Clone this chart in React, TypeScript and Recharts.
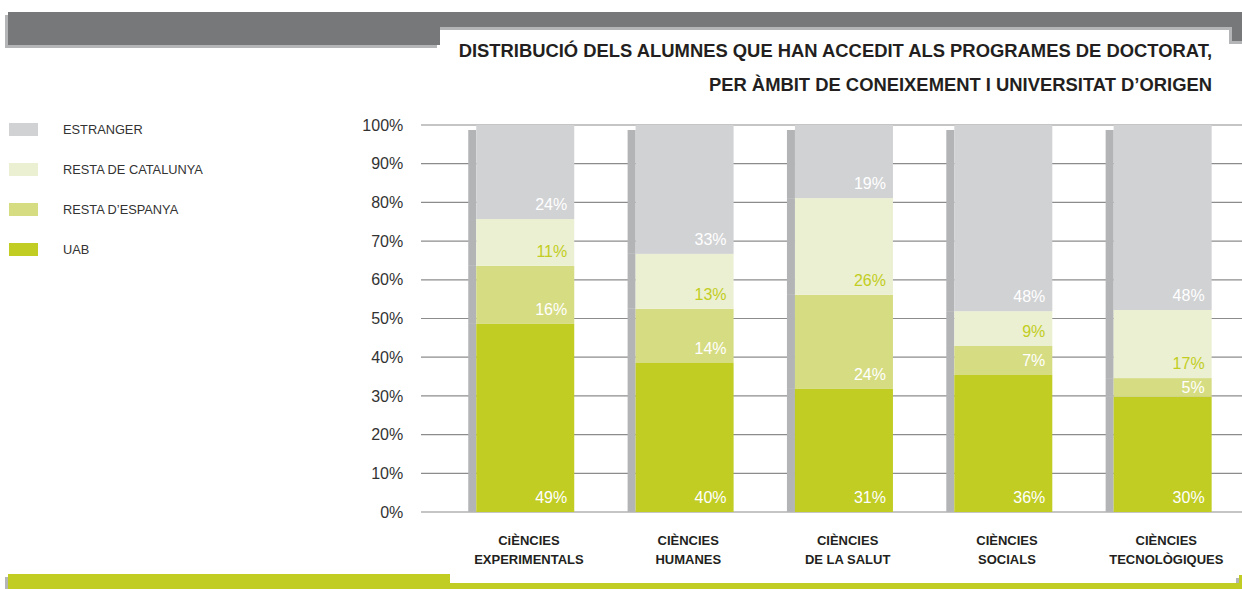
import { BarChart, Bar, XAxis, YAxis, CartesianGrid, Legend, LabelList } from 'recharts';

const FONT = '"Liberation Sans", Arial, Helvetica, sans-serif';

const categories = [
  'CiÈNCIES EXPERIMENTALS',
  'CIÈNCIES HUMANES',
  'CIÈNCIES DE LA SALUT',
  'CIÈNCIES SOCIALS',
  'CIÈNCIES TECNOLÒGIQUES',
];

// segment heights as drawn (percent)
const uab = [48.6, 38.5, 31.8, 35.4, 29.8];
const restaEspanya = [15.0, 14.0, 24.3, 7.5, 4.8];
const restaCatalunya = [12.1, 14.2, 25.0, 9.0, 17.6];
const estranger = [24.3, 33.3, 18.9, 48.1, 47.8];

// printed labels
const uabLabels = [49, 40, 31, 36, 30];
const espanyaLabels = [16, 14, 24, 7, 5];
const catalunyaLabels = [11, 13, 26, 9, 17];
const estrangerLabels = [24, 33, 19, 48, 48];

const yTicks = [0, 10, 20, 30, 40, 50, 60, 70, 80, 90, 100];

const data = categories.map((name, i) => ({
  name,
  uab: uab[i],
  espanya: restaEspanya[i],
  catalunya: restaCatalunya[i],
  estranger: estranger[i],
  uabLabel: `${uabLabels[i]}%`,
  espanyaLabel: `${espanyaLabels[i]}%`,
  catalunyaLabel: `${catalunyaLabels[i]}%`,
  estrangerLabel: `${estrangerLabels[i]}%`,
}));

const SHADOW = '#b3b4b6';

const segment = (top: boolean) => (props: any) => {
  const { x, y, width, height, fill } = props;
  const sy = top ? y + 5 : y;
  return (
    <g>
      <rect x={x - 8} y={sy} width={8} height={Math.max(0, y + height - sy)} fill={SHADOW} />
      <rect x={x} y={y} width={width} height={height} fill={fill} />
    </g>
  );
};

const valueLabel = (color: string) => (props: any) => {
  const { x, y, width, height, value } = props;
  const lift = Math.min(9, (height - 11.5) / 2);
  return (
    <text
      x={x + width - 7}
      y={y + height - lift}
      textAnchor="end"
      fill={color}
      fontSize={16}
      fontFamily={FONT}
    >
      {value}
    </text>
  );
};

const CategoryTick = (props: any) => {
  const { x, y, payload } = props;
  const [first, ...rest] = String(payload.value).split(' ');
  const cx = x + 4;
  return (
    <text x={cx} y={y} textAnchor="middle" fontWeight="bold" fontSize={13} fill="#231f20" fontFamily={FONT}>
      <tspan x={cx} dy={33}>{first}</tspan>
      <tspan x={cx} dy={19}>{rest.join(' ')}</tspan>
    </text>
  );
};

const renderLegend = (props: any) => {
  const items = props.payload || [];
  return (
    <div>
      {items.map((item: any) => (
        <div key={item.value} style={{ display: 'flex', alignItems: 'center', height: 13, marginBottom: 27 }}>
          <div style={{ marginLeft: 9, width: 29, height: 12.5, background: item.color }} />
          <div style={{ marginLeft: 25, fontSize: 12.8, color: '#333', fontFamily: FONT, whiteSpace: 'nowrap' }}>
            {item.value}
          </div>
        </div>
      ))}
    </div>
  );
};

const abs = (left: number, top: number, width: number, height: number, background: string) => ({
  position: 'absolute' as const,
  left,
  top,
  width,
  height,
  background,
});

export default function App() {
  const dark = '#77787a';
  const light = '#b4b5b7';
  const green = '#c1cd23';
  return (
    <div
      style={{
        position: 'absolute',
        left: 0,
        top: 0,
        width: 1242,
        height: 589,
        overflow: 'hidden',
        background: '#fff',
        fontFamily: FONT,
      }}
    >
      {/* header band */}
      <div style={abs(5, 15, 432, 33, light)} />
      <div style={abs(440, 27, 792, 3, light)} />
      <div style={abs(1229, 27, 13, 17, light)} />
      <div style={abs(8, 12, 432, 33, dark)} />
      <div style={abs(440, 12, 802, 15, dark)} />
      <div style={abs(1232, 12, 10, 29, dark)} />

      {/* footer band */}
      <div style={abs(5, 577, 3, 12, light)} />
      <div style={abs(8, 574, 442, 15, green)} />
      <div style={abs(450, 583, 792, 6, green)} />
      <div style={abs(1236, 578, 3, 5, light)} />
      <div style={abs(1239, 575, 3, 14, green)} />

      <div
        style={{
          position: 'absolute',
          right: 30,
          top: 34,
          textAlign: 'right',
          fontWeight: 'bold',
          fontSize: 18.4,
          lineHeight: '34px',
          color: '#231f20',
          whiteSpace: 'nowrap',
        }}
      >
        DISTRIBUCIÓ DELS ALUMNES QUE HAN ACCEDIT ALS PROGRAMES DE DOCTORAT,
        <br />
        PER ÀMBIT DE CONEIXEMENT I UNIVERSITAT D’ORIGEN
      </div>

      <div style={{ position: 'absolute', left: 0, top: 0 }}>
        <BarChart
          width={1242}
          height={589}
          data={data}
          margin={{ top: 125, right: 0, bottom: 17, left: 405.25 }}
          barSize={98}
        >
          <CartesianGrid vertical={false} stroke="#8c8c8e" strokeWidth={1.2} x={421} width={821} />
          <XAxis
            dataKey="name"
            axisLine={false}
            tickLine={false}
            tickSize={0}
            tickMargin={0}
            height={60}
            interval={0}
            tick={<CategoryTick />}
          />
          <YAxis
            width={40}
            domain={[0, 100]}
            ticks={yTicks}
            axisLine={false}
            tickLine={false}
            tickSize={0}
            tickMargin={42}
            tickFormatter={(v: number) => `${v}%`}
            tick={{ fontSize: 16, fill: '#333', fontFamily: FONT }}
          />
          <Legend
            layout="vertical"
            align="center"
            verticalAlign="middle"
            content={renderLegend}
            wrapperStyle={{ left: 0, top: 123, width: 260 }}
          />
          <Bar dataKey="uab" name="UAB" stackId="a" fill={green} shape={segment(false)} isAnimationActive={false}>
            <LabelList dataKey="uabLabel" content={valueLabel('#ffffff')} />
          </Bar>
          <Bar dataKey="espanya" name="RESTA D’ESPANYA" stackId="a" fill="#d6dc82" shape={segment(false)} isAnimationActive={false}>
            <LabelList dataKey="espanyaLabel" content={valueLabel('#ffffff')} />
          </Bar>
          <Bar dataKey="catalunya" name="RESTA DE CATALUNYA" stackId="a" fill="#ecf0d2" shape={segment(false)} isAnimationActive={false}>
            <LabelList dataKey="catalunyaLabel" content={valueLabel('#c1cd23')} />
          </Bar>
          <Bar dataKey="estranger" name="ESTRANGER" stackId="a" fill="#d1d2d4" shape={segment(true)} isAnimationActive={false}>
            <LabelList dataKey="estrangerLabel" content={valueLabel('#ffffff')} />
          </Bar>
        </BarChart>
      </div>
    </div>
  );
}
